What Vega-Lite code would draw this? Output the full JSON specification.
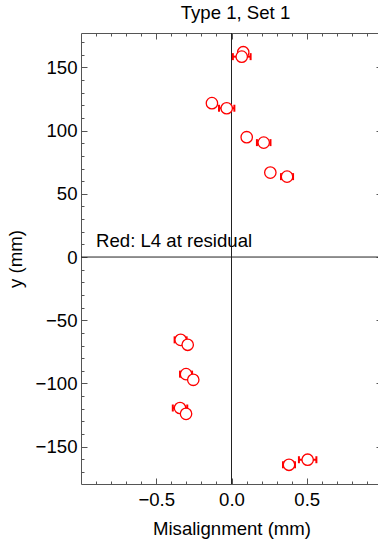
{
  "$schema": "https://vega.github.io/schema/vega-lite/v6.json",
  "width": 301,
  "height": 451,
  "autosize": "none",
  "padding": {"left": 81, "top": 33, "right": 0, "bottom": 56},
  "background": "white",
  "config": {
    "font": "Liberation Sans",
    "view": {"stroke": "#555555", "strokeWidth": 1},
    "axis": {
      "labelFont": "Liberation Sans",
      "titleFont": "Liberation Sans",
      "labelFontSize": 18.6,
      "titleFontSize": 18.6,
      "titleFontWeight": "normal",
      "labelColor": "#000000",
      "titleColor": "#000000",
      "domain": false,
      "grid": false,
      "tickColor": "#555555",
      "tickWidth": 1,
      "labelOverlap": false,
      "labelFlush": false,
      "labelBound": false
    }
  },
  "title": {
    "text": "Type 1, Set 1",
    "font": "Liberation Sans",
    "fontSize": 18.6,
    "fontWeight": "normal",
    "color": "#000000",
    "anchor": "middle",
    "dx": 4,
    "offset": 10
  },
  "data": {
    "values": [
      {"x": 0.078, "y": 162.0, "xlo": 0.058, "xhi": 0.098},
      {"x": 0.068, "y": 158.5, "xlo": 0.009, "xhi": 0.127},
      {"x": -0.130, "y": 121.7, "xlo": -0.150, "xhi": -0.110},
      {"x": -0.032, "y": 117.7, "xlo": -0.083, "xhi": 0.019},
      {"x": 0.101, "y": 94.8, "xlo": 0.081, "xhi": 0.121},
      {"x": 0.214, "y": 90.5, "xlo": 0.169, "xhi": 0.259},
      {"x": 0.258, "y": 66.8, "xlo": 0.238, "xhi": 0.278},
      {"x": 0.369, "y": 63.6, "xlo": 0.329, "xhi": 0.409},
      {"x": -0.338, "y": -65.5, "xlo": -0.378, "xhi": -0.298},
      {"x": -0.291, "y": -69.4, "xlo": -0.311, "xhi": -0.271},
      {"x": -0.302, "y": -92.6, "xlo": -0.342, "xhi": -0.262},
      {"x": -0.254, "y": -97.1, "xlo": -0.274, "xhi": -0.234},
      {"x": -0.342, "y": -119.4, "xlo": -0.390, "xhi": -0.294},
      {"x": -0.302, "y": -124.0, "xlo": -0.322, "xhi": -0.282},
      {"x": 0.382, "y": -164.3, "xlo": 0.342, "xhi": 0.422},
      {"x": 0.506, "y": -160.3, "xlo": 0.448, "xhi": 0.564}
    ]
  },
  "layer": [
    {
      "data": {"values": [{}]},
      "mark": {"type": "rule", "color": "#222222", "strokeWidth": 1},
      "encoding": {
        "x": {"datum": 0, "type": "quantitative", "axis": null, "scale": {"domain": [-1, 1], "nice": false, "zero": false}}
      }
    },
    {
      "data": {"values": [{}]},
      "mark": {"type": "rule", "color": "#222222", "strokeWidth": 1},
      "encoding": {
        "y": {"datum": 0, "type": "quantitative", "axis": null, "scale": {"domain": [-179.5, 177.2], "nice": false, "zero": false}}
      }
    },
    {
      "data": {"values": [{}]},
      "mark": {"type": "text", "align": "left", "baseline": "alphabetic", "fontSize": 18.6, "font": "Liberation Sans", "color": "#000000", "text": "Red: L4 at residual"},
      "encoding": {
        "x": {"datum": -0.9, "type": "quantitative", "axis": null},
        "y": {"datum": 8, "type": "quantitative", "axis": null}
      }
    },
    {
      "mark": {"type": "rule", "color": "#ff0000", "strokeWidth": 2},
      "encoding": {
        "x": {"field": "xlo", "type": "quantitative", "axis": null},
        "x2": {"field": "xhi"},
        "y": {"field": "y", "type": "quantitative", "axis": null}
      }
    },
    {
      "mark": {"type": "tick", "orient": "vertical", "color": "#ff0000", "size": 7, "thickness": 2, "opacity": 1},
      "encoding": {
        "x": {"field": "xlo", "type": "quantitative", "axis": null},
        "y": {"field": "y", "type": "quantitative", "axis": null}
      }
    },
    {
      "mark": {"type": "tick", "orient": "vertical", "color": "#ff0000", "size": 7, "thickness": 2, "opacity": 1},
      "encoding": {
        "x": {"field": "xhi", "type": "quantitative", "axis": null},
        "y": {"field": "y", "type": "quantitative", "axis": null}
      }
    },
    {
      "mark": {"type": "point", "shape": "circle", "filled": true, "fill": "#ffffff", "stroke": "#ff0000", "strokeWidth": 1.3, "size": 130, "opacity": 1, "fillOpacity": 1},
      "encoding": {
        "x": {
          "field": "x", "type": "quantitative",
          "scale": {"domain": [-1, 1], "nice": false, "zero": false},
          "axis": {
            "orient": "bottom",
            "title": "Misalignment (mm)",
            "values": [-0.9, -0.8, -0.7, -0.6, -0.5, -0.4, -0.3, -0.2, -0.1, 0, 0.1, 0.2, 0.3, 0.4, 0.5, 0.6, 0.7, 0.8, 0.9],
            "tickSize": {"condition": {"test": "abs(round(datum.value*10))%5==0", "value": -6}, "value": -3},
            "labelExpr": "abs(round(datum.value*10))%5==0 ? format(datum.value, '.1f') : ''",
            "labelPadding": 12,
            "titlePadding": 8
          }
        },
        "y": {
          "field": "y", "type": "quantitative",
          "scale": {"domain": [-179.5, 177.2], "nice": false, "zero": false},
          "axis": {
            "orient": "left",
            "title": "y (mm)",
            "values": [-170, -160, -150, -140, -130, -120, -110, -100, -90, -80, -70, -60, -50, -40, -30, -20, -10, 0, 10, 20, 30, 40, 50, 60, 70, 80, 90, 100, 110, 120, 130, 140, 150, 160, 170],
            "tickSize": {"condition": {"test": "abs(round(datum.value))%50==0", "value": -6}, "value": -3},
            "labelExpr": "abs(round(datum.value))%50==0 ? format(datum.value, 'd') : ''",
            "labelPadding": 10,
            "titlePadding": 10
          }
        }
      }
    },
    {
      "mark": {"type": "point", "opacity": 0},
      "encoding": {
        "x": {
          "field": "x", "type": "quantitative",
          "axis": {
            "orient": "top",
            "title": null,
            "labels": false,
            "values": [-0.9, -0.8, -0.7, -0.6, -0.5, -0.4, -0.3, -0.2, -0.1, 0, 0.1, 0.2, 0.3, 0.4, 0.5, 0.6, 0.7, 0.8, 0.9],
            "tickSize": {"condition": {"test": "abs(round(datum.value*10))%5==0", "value": -6}, "value": -3}
          }
        },
        "y": {
          "field": "y", "type": "quantitative",
          "axis": {
            "orient": "right",
            "title": null,
            "labels": false,
            "values": [-170, -160, -150, -140, -130, -120, -110, -100, -90, -80, -70, -60, -50, -40, -30, -20, -10, 0, 10, 20, 30, 40, 50, 60, 70, 80, 90, 100, 110, 120, 130, 140, 150, 160, 170],
            "tickSize": {"condition": {"test": "abs(round(datum.value))%50==0", "value": -6}, "value": -3}
          }
        }
      }
    }
  ],
  "resolve": {"axis": {"x": "independent", "y": "independent"}}
}
